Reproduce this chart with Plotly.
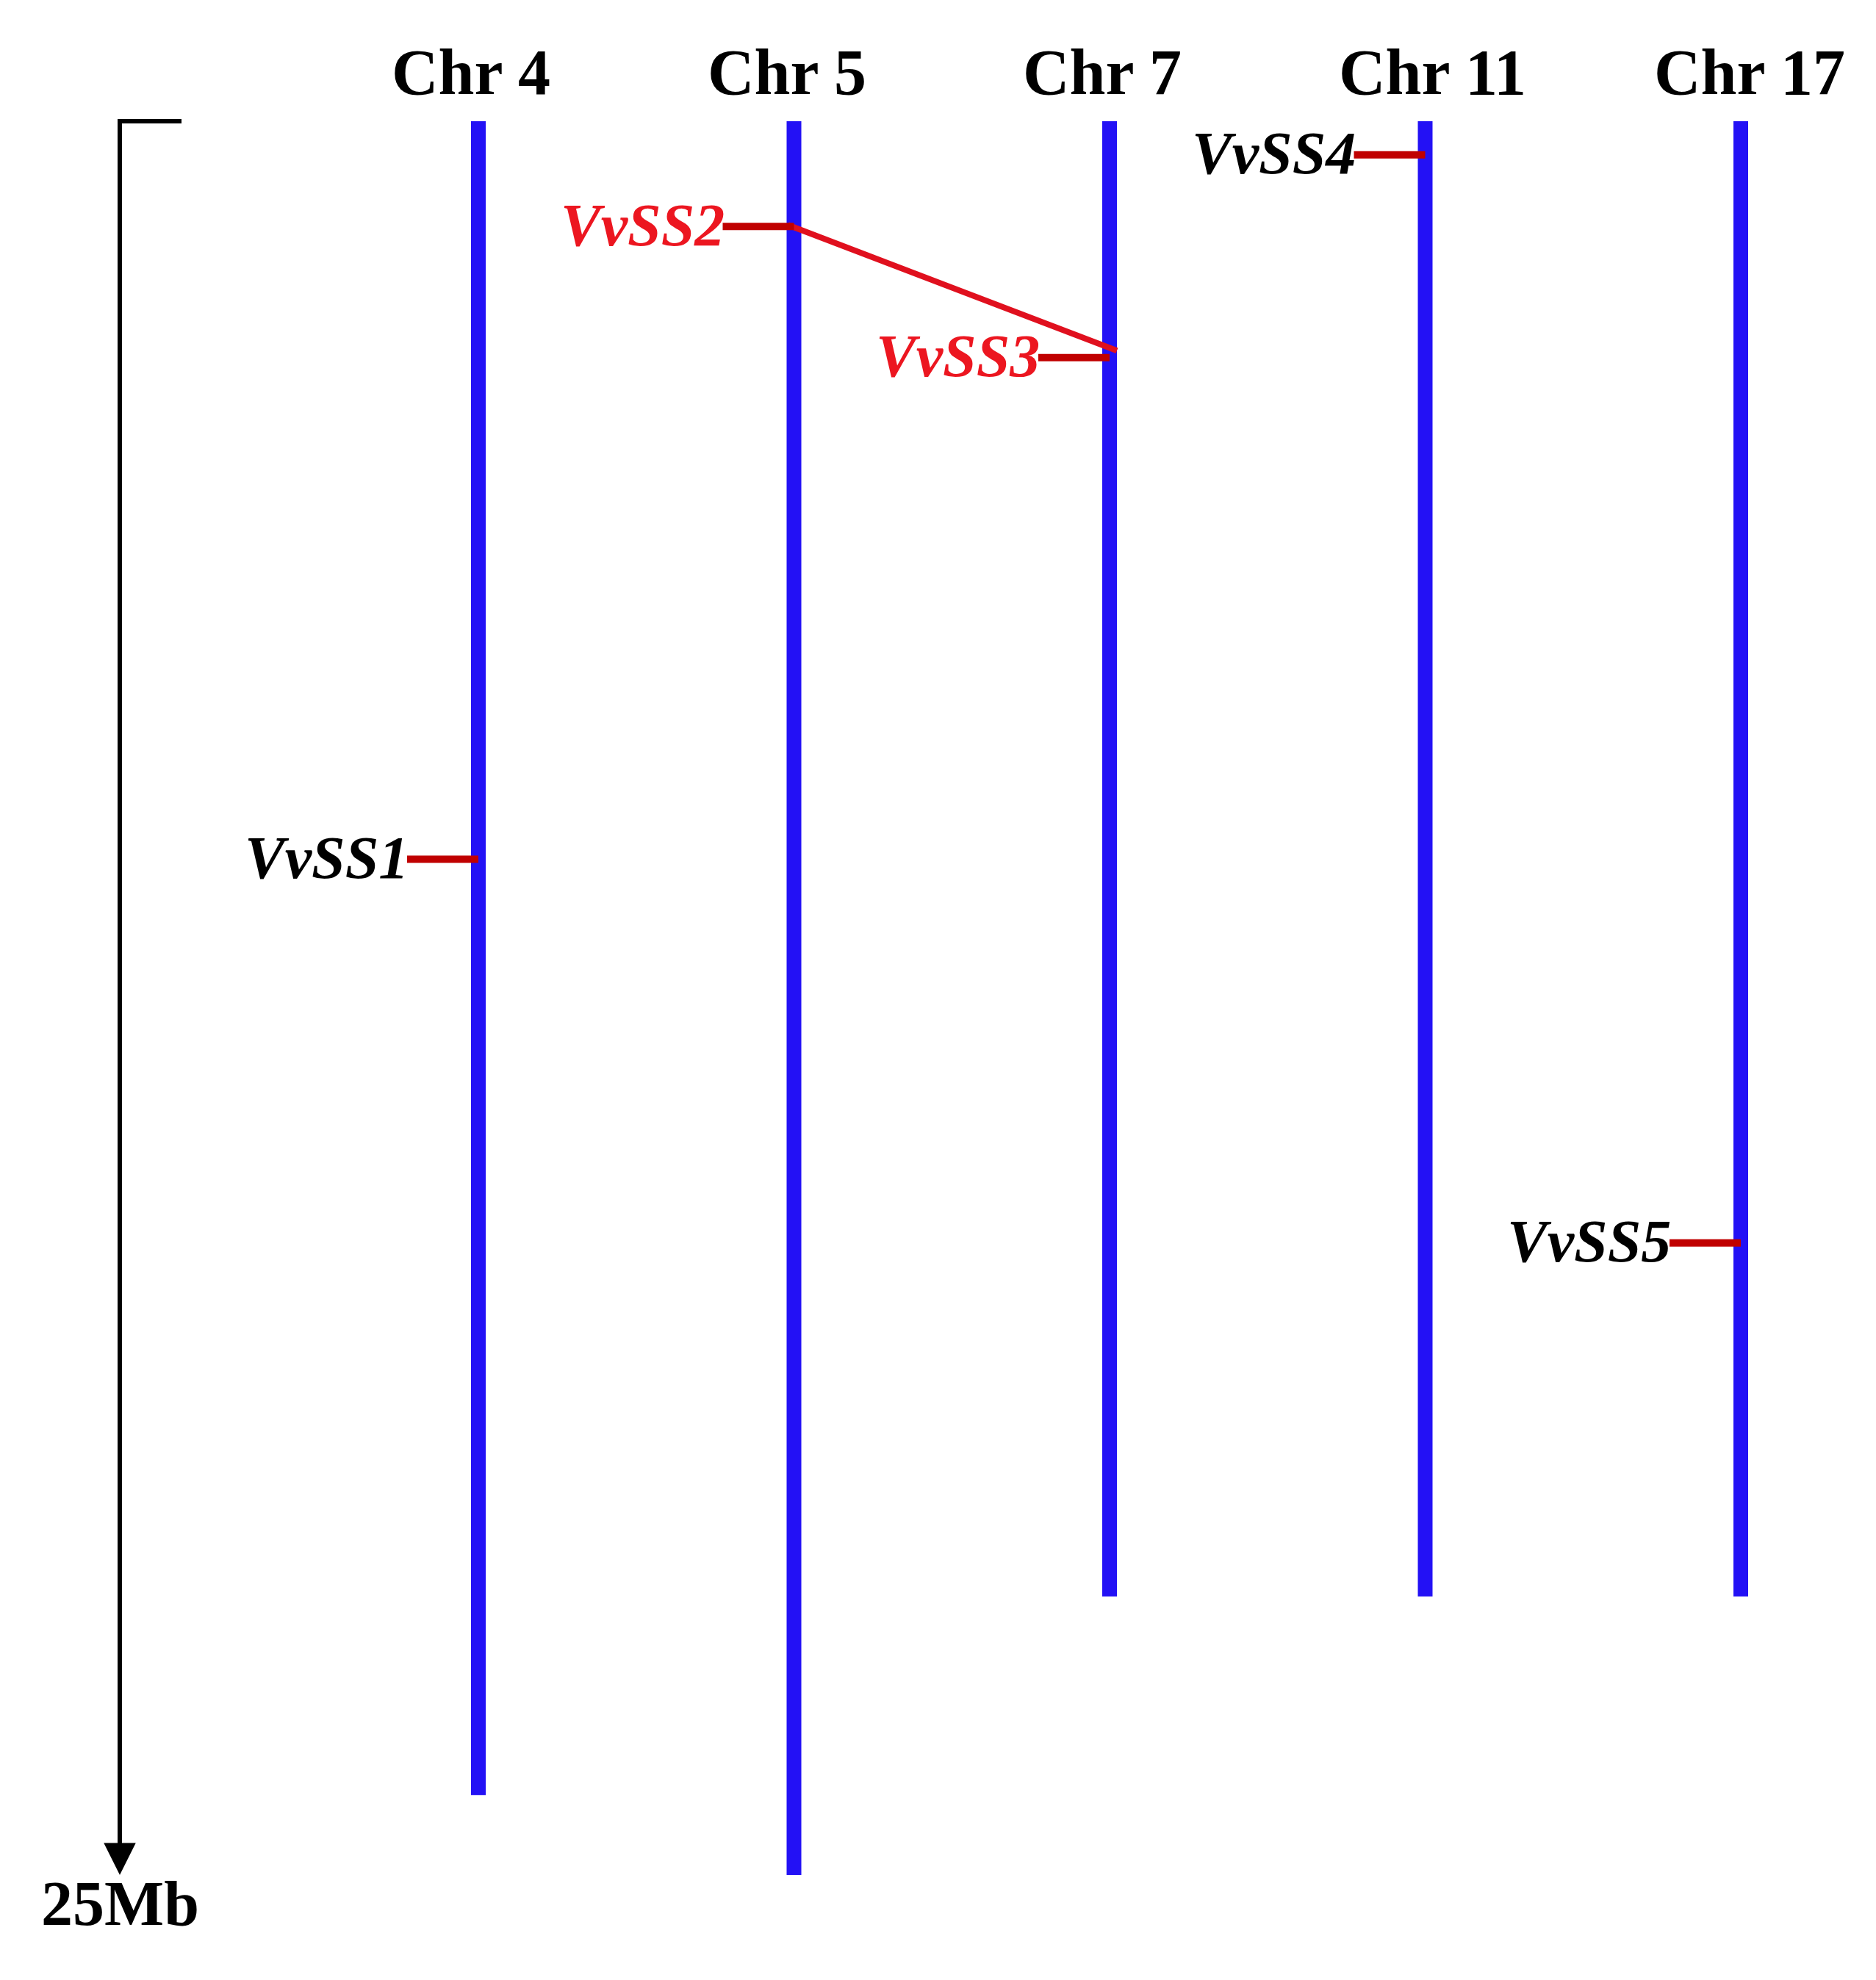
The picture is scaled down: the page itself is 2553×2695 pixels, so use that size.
import plotly.graph_objects as go

# chromosomes, lengths in Mb
chrom_names = ["Chr 4", "Chr 5", "Chr 7", "Chr 11", "Chr 17"]
chrom_len = [23.86, 25.0, 21.03, 21.03, 21.03]

# genes and their position on the chromosome (Mb)
gene_names = ["VvSS1", "VvSS2", "VvSS3", "VvSS4", "VvSS5"]
gene_chrom = ["Chr 4", "Chr 5", "Chr 7", "Chr 11", "Chr 17"]
gene_pos = [10.52, 1.50, 3.37, 0.48, 15.99]
gene_dup = [False, True, True, False, False]

# segmental duplication link between two genes (Mb at each end)
link_genes = ["VvSS2", "VvSS3"]
link_pos = [1.48, 3.27]

# scale bar
scale_len = 25
scale_label = "25Mb"

# page geometry (pixels); the browser adds an 8px body margin
W, H = 2553, 2695
PAD = 8
slot_px = 429.5          # distance between chromosomes
x0_px = 651 - PAD        # first chromosome
mb_px = 95.48            # pixels per Mb
top_px = 165 - PAD       # y of 0 Mb


def dx(px):
    return px / slot_px


def dy(px):
    return px / mb_px


FONT = "Liberation Serif"
BLUE = "#2311F5"
TICK_RED = "#C00000"
LINK_RED = "#E0101E"
TEXT_RED = "#EC1620"

fig = go.Figure()

# chromosome bars
for i, (name, ln) in enumerate(zip(chrom_names, chrom_len)):
    fig.add_trace(go.Scatter(x=[i, i], y=[0, ln], mode="lines",
                             line=dict(color=BLUE, width=20), hoverinfo="skip"))

# duplication link
idx_a = chrom_names.index(gene_chrom[gene_names.index(link_genes[0])])
idx_b = chrom_names.index(gene_chrom[gene_names.index(link_genes[1])])
fig.add_trace(go.Scatter(x=[idx_a - dx(8), idx_b + dx(10)], y=link_pos, mode="lines",
                         line=dict(color=LINK_RED, width=8), hoverinfo="skip"))

# gene ticks + labels
annotations = []
for g, c, p, d in zip(gene_names, gene_chrom, gene_pos, gene_dup):
    ci = chrom_names.index(c)
    fig.add_trace(go.Scatter(x=[ci - dx(97), ci], y=[p, p], mode="lines",
                             line=dict(color=TICK_RED, width=10), hoverinfo="skip"))
    annotations.append(dict(x=ci - dx(93), y=p - dy(2), text=f"<b><i>{g}</i></b>",
                            showarrow=False, xanchor="right", yanchor="middle",
                            font=dict(family=FONT, size=82, color=TEXT_RED if d else "black")))

# chromosome titles
for i, name in enumerate(chrom_names):
    annotations.append(dict(x=i - dx(120), y=-dy(165 - 98), text=f"<b>{name}</b>",
                            showarrow=False, xanchor="left", yanchor="middle",
                            font=dict(family=FONT, size=88, color="black")))

# scale bar
u_sb = dx(163 - 651)
fig.add_trace(go.Scatter(x=[u_sb + dx(84), u_sb, u_sb], y=[0, 0, scale_len - dy(30)],
                         mode="lines", line=dict(color="black", width=6), hoverinfo="skip"))
annotations.append(dict(x=u_sb, y=scale_len, ax=0, ay=-60, text="", showarrow=True,
                        arrowhead=2, arrowsize=1.45, arrowwidth=6, arrowcolor="black",
                        standoff=0))
annotations.append(dict(x=u_sb, y=scale_len + dy(39), text=f"<b>{scale_label}</b>",
                        showarrow=False, xanchor="center", yanchor="middle",
                        font=dict(family=FONT, size=86, color="black")))

fig.update_layout(
    width=W, height=H,
    margin=dict(l=0, r=0, t=0, b=0),
    paper_bgcolor="white", plot_bgcolor="white",
    showlegend=False,
    xaxis=dict(range=[dx(-x0_px), dx(W - x0_px)], visible=False, fixedrange=True),
    yaxis=dict(range=[dy(H - top_px), dy(-top_px)], visible=False, fixedrange=True),
    annotations=annotations,
)

fig.write_html("out.html")
